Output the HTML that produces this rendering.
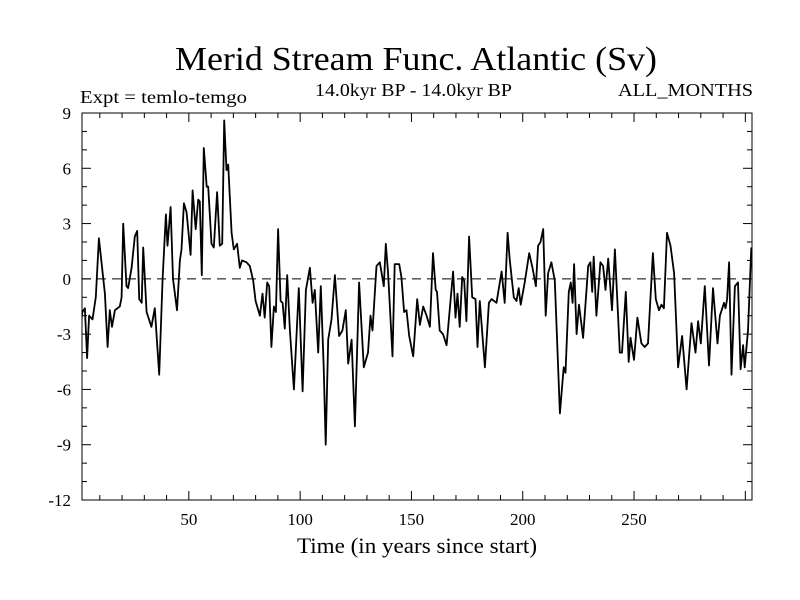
<!DOCTYPE html>
<html><head><meta charset="utf-8"><style>
html,body{margin:0;padding:0;background:#fff;}
svg{display:block;font-family:"Liberation Serif",serif;}
</style></head><body>
<svg id="chart" width="800" height="600" viewBox="0 0 800 600">
<rect width="800" height="600" fill="#fff"/>
<text x="175" y="70" font-size="34" textLength="482" lengthAdjust="spacingAndGlyphs">Merid Stream Func. Atlantic (Sv)</text>
<text x="80" y="103" font-size="18" textLength="167" lengthAdjust="spacingAndGlyphs">Expt = temlo-temgo</text>
<text x="315" y="96" font-size="18" textLength="197" lengthAdjust="spacingAndGlyphs">14.0kyr BP - 14.0kyr BP</text>
<text x="618" y="96" font-size="18" textLength="135" lengthAdjust="spacingAndGlyphs">ALL_MONTHS</text>
<text x="297" y="553" font-size="22" textLength="240" lengthAdjust="spacingAndGlyphs">Time (in years since start)</text>
<g id="axes"></g>
<g id="series"></g>
</svg>
<script>
const years=[1.0,2.2,3.3,4.3,5.2,6.7,8.2,9.6,12.3,13.5,14.5,15.5,16.8,19.0,19.8,20.5,22.0,22.7,24.3,25.7,26.8,27.7,28.8,29.5,31.0,33.2,34.7,36.7,38.2,39.7,40.4,41.8,42.9,44.7,46.0,46.7,47.8,49.0,50.8,51.7,53.1,54.2,54.9,55.8,56.7,58.0,58.7,60.2,61.2,62.7,63.9,65.0,65.9,66.9,67.7,69.2,70.2,71.7,72.9,73.9,75.9,77.4,78.9,80.0,81.9,
83.1,84.1,85.2,86.1,87.1,88.2,89.1,90.1,91.2,92.1,93.1,94.2,95.4,97.2,99.4,101.1,102.6,104.4,105.6,106.6,108.1,109.3,110.6,111.5,112.6,114.1,115.6,117.5,119.0,120.5,121.6,123.1,124.6,126.5,128.6,130.5,131.6,132.5,134.3,135.8,137.6,138.5,139.5,141.5,142.5,144.5,145.5,146.7,147.8,149.0,150.8,152.6,153.8,155.3,156.8,158.3,
159.7,160.9,161.5,162.7,164.2,165.8,168.7,169.8,170.7,171.7,172.8,173.7,174.7,175.9,177.3,178.8,179.7,180.7,183.0,184.8,186.0,188.2,190.5,191.9,193.2,194.2,196.0,197.2,198.2,199.1,200.9,202.9,204.4,205.9,206.9,208.0,209.2,210.3,211.4,212.9,214.4,216.7,218.4,219.2,220.7,221.6,222.4,223.1,224.2,225.3,
227.1,229.4,230.4,231.2,231.9,233.1,234.9,236.1,237.2,238.4,240.1,241.4,243.6,244.6,246.3,247.6,248.4,250.0,251.5,253.3,254.8,256.3,258.5,259.8,261.2,262.3,263.4,264.8,266.4,268.0,269.8,271.6,273.6,275.8,277.6,278.8,280.0,281.8,283.7,285.5,287.5,288.6,290.4,291.1,291.8,292.7,293.8,295.3,296.7,297.9,299.0,299.7,301.2,302.7];
const values=[-2.9,-1.8,-1.6,-4.3,-2,-2.2,-1,2.2,-0.8,-3.7,-1.7,-2.6,-1.7,-1.5,-1,3,-0.4,-0.5,0.6,2.3,2.6,-1.1,-1.3,1.7,-1.8,-2.6,-1.6,-5.2,0,3.5,1.8,3.9,0,-1.7,1,1.6,4.1,3.6,1.3,4.8,2.7,4.3,4.2,0.2,7.1,5,5,1.9,1.7,4.7,1.8,1.9,8.6,5.9,6.2,2.5,1.6,1.9,0.6,1,0.9,0.7,-0.1,-1.2,-2,
-0.8,-2.1,-0.2,-0.4,-3.7,-1.5,-1.8,2.7,-1.2,-1.3,-2.7,0.2,-2.8,-6,-0.5,-6.1,-0.6,0.6,-1.3,-0.6,-4,-0.4,-4.8,-9,-3.3,-2.2,0.2,-3.1,-2.8,-1.7,-4.6,-3.3,-8,-0.2,-4.8,-4,-2,-2.8,0.7,0.9,-0.4,1.9,0.3,-4.2,0.8,0.8,0.1,-1.8,-1.7,-3.1,-4.2,-1.1,-2.5,-1.5,-2,-2.6,
1.4,-0.6,-0.7,-2.8,-3,-3.6,0.4,-2.1,-0.8,-2.6,0.1,-0.1,-2.3,2.3,-1,-1.1,-3.7,-1.2,-4.8,-1.3,-1.1,-1.3,0.4,-1.3,2.5,1,-1,-1.2,-0.5,-1.4,-0.2,1.4,0.6,-0.4,1.8,2,2.7,-2,0.3,0.9,-0.1,-7.3,-4.8,-5.1,-0.7,-0.2,-1.3,0.8,-3,-1.4,
-3.2,0.7,0.9,-0.7,1.2,-2,0.9,0.7,-0.6,1.1,-1.7,1.6,-4,-4,-0.7,-4.5,-3.2,-4.4,-2.1,-3.5,-3.7,-3.5,1.4,-1.1,-1.7,-1.4,-1.6,2.5,1.8,0.3,-4.8,-3.1,-6,-2.4,-4,-2.3,-3.5,-0.4,-4.7,-0.5,-3.5,-2,-1.3,-1.6,-1.1,0.9,-5.2,-0.4,-0.2,-4.9,-3.6,-4.8,-2.8,1.7];
const yTicks=[-12,-9,-6,-3,0,3,6,9];
const xTicks=[50,100,150,200,250];
const X0=82,X1=752,Y0=500,Y1=113,XMIN=2,XMAX=303,YMIN=-12,YMAX=9;
const NS='http://www.w3.org/2000/svg';
function xs(v){return X0+(v-XMIN)/(XMAX-XMIN)*(X1-X0);}
function ys(v){return Y0-(v-YMIN)/(YMAX-YMIN)*(Y0-Y1);}
function mk(tag,attrs,parent){const e=document.createElementNS(NS,tag);for(const k in attrs)e.setAttribute(k,attrs[k]);parent.appendChild(e);return e;}
const axes=document.getElementById('axes');
const frame=mk('rect',{x:X0,y:Y1,width:X1-X0,height:Y0-Y1,fill:'none',stroke:'#000','stroke-width':1},axes);


const zl=mk('line',{x1:X0,x2:X1,y1:ys(0),y2:ys(0),stroke:'#000','stroke-width':1,'stroke-dasharray':'9,6'},axes);


for(let v=YMIN;v<=YMAX;v++){
  const len=(v%3===0)?9:5;const y=ys(v);
  mk('line',{x1:X0,x2:X0+len,y1:y,y2:y,stroke:'#000'},axes);
  mk('line',{x1:X1,x2:X1-len,y1:y,y2:y,stroke:'#000'},axes);
}
for(let v=10;v<XMAX;v+=10){
  const len=(v%50===0)?9:5;const x=xs(v);
  mk('line',{x1:x,x2:x,y1:Y0,y2:Y0-len,stroke:'#000'},axes);
  mk('line',{x1:x,x2:x,y1:Y1,y2:Y1+len,stroke:'#000'},axes);
}
yTicks.forEach(v=>{
  const t=mk('text',{x:71,y:ys(v)+6,'font-size':17,'text-anchor':'end'},axes);
  t.textContent=v;
  
  
});
xTicks.forEach(v=>{
  const t=mk('text',{x:xs(v),y:525,'font-size':17,'text-anchor':'middle'},axes);
  t.textContent=v;
  
  
});
const series=document.getElementById('series');
mk('clipPath',{id:'clip'},series).appendChild((()=>{const r=document.createElementNS(NS,'rect');r.setAttribute('x',X0);r.setAttribute('y',Y1);r.setAttribute('width',X1-X0);r.setAttribute('height',Y0-Y1);return r;})());
const d=years.map((yr,i)=>(i?'L':'M')+xs(yr).toFixed(1)+','+ys(values[i]).toFixed(1)).join('');
const p=mk('path',{d:d,fill:'none',stroke:'#000','stroke-width':1.8,'stroke-linejoin':'round','clip-path':'url(#clip)'},series);


</script>
</body></html>
